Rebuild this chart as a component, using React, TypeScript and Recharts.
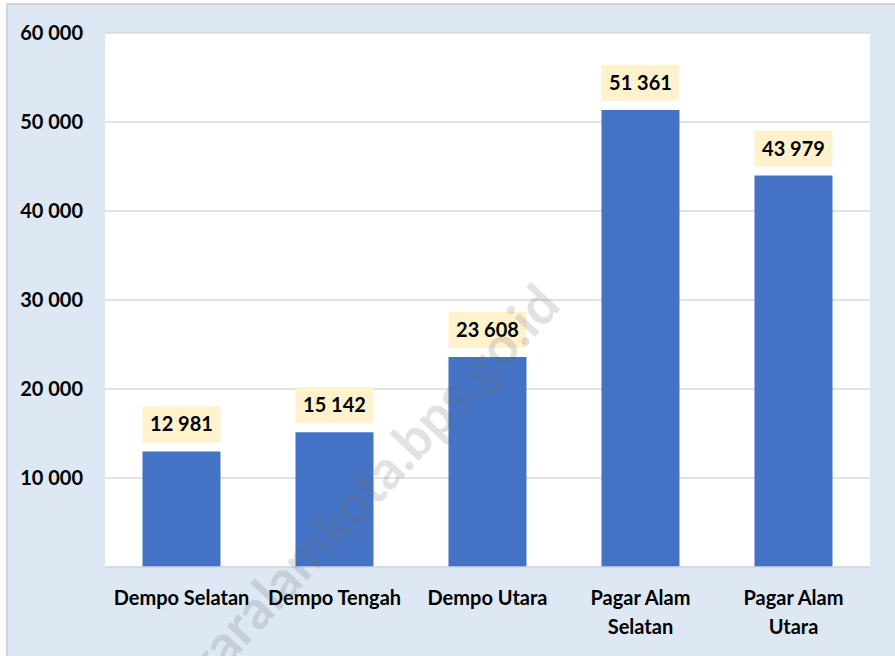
import { BarChart, Bar, XAxis, YAxis, CartesianGrid, LabelList } from "recharts";

const categories = [
  "Dempo Selatan",
  "Dempo Tengah",
  "Dempo Utara",
  "Pagar Alam Selatan",
  "Pagar Alam Utara",
];
const population = [12981, 15142, 23608, 51361, 43979];
const yTicks = [0, 10000, 20000, 30000, 40000, 50000, 60000];

const data = categories.map((name, i) => ({ name, value: population[i] }));

const FONT = "Lato, 'Open Sans', sans-serif";
const fmt = (v: number) => (v === 0 ? "" : v.toLocaleString("en-US").replace(/,/g, " "));

function XTick({ x, y, payload }: any) {
  const label: string = payload.value;
  const words = label.split(" ");
  const lines = label.length > 14 ? [words.slice(0, -1).join(" "), words[words.length - 1]] : [label];
  return (
    <text x={x} y={y} textAnchor="middle" fontFamily={FONT} fontWeight={700} fontSize={20} fill="#000">
      {lines.map((l, i) => (
        <tspan key={i} x={x} y={y + 30 + i * 29}>
          {l}
        </tspan>
      ))}
    </text>
  );
}

function ValueLabel({ x, y, width, value }: any) {
  const top = y - 9 - 36;
  return (
    <g>
      <rect x={x} y={top} width={width} height={36} fill="#fff2cc" />
      <text
        x={x + width / 2}
        y={top + 25}
        textAnchor="middle"
        fontFamily={FONT}
        fontWeight={700}
        fontSize={20}
        fill="#000"
      >
        {fmt(value)}
      </text>
    </g>
  );
}

export default function App() {
  return (
    <div style={{ position: "fixed", left: 0, top: 0, width: 895, height: 656, overflow: "hidden" }}>
      <div
        style={{
          position: "absolute",
          left: 6,
          top: 3,
          width: 900,
          height: 670,
          background: "#dde8f4",
          border: "2px solid #d2d2d2",
        }}
      />
      <div style={{ position: "absolute", left: 0, top: 0 }}>
        <BarChart
          width={895}
          height={656}
          data={data}
          margin={{ top: 33, right: 25, bottom: 0, left: 0 }}
          barCategoryGap="24.5%"
        >
          <CartesianGrid vertical={false} stroke="#d9d9d9" strokeWidth={1.5} fill="#ffffff" />
          <XAxis
            dataKey="name"
            height={89}
            axisLine={{ stroke: "#d9d9d9", strokeWidth: 1.5 }}
            tickLine={false}
            interval={0}
            tick={<XTick />}
          />
          <YAxis
            width={105}
            domain={[0, 60000]}
            ticks={yTicks}
            axisLine={false}
            tickLine={false}
            tickSize={0}
            tickMargin={22}
            tickFormatter={fmt}
            tick={{ fontFamily: FONT, fontWeight: 700, fontSize: 20, fill: "#000" }}
          />
          <Bar dataKey="value" fill="#4472c4" isAnimationActive={false}>
            <LabelList dataKey="value" content={<ValueLabel />} />
          </Bar>
        </BarChart>
      </div>
      <div
        style={{
          position: "absolute",
          left: 350,
          top: 505,
          transform: "translate(-50%, -50%) rotate(-47deg)",
          fontFamily: FONT,
          fontWeight: 700,
          fontSize: 54,
          color: "rgba(110,110,110,0.2)",
          whiteSpace: "nowrap",
          pointerEvents: "none",
        }}
      >
        pagaralamkota.bps.go.id
      </div>
    </div>
  );
}
